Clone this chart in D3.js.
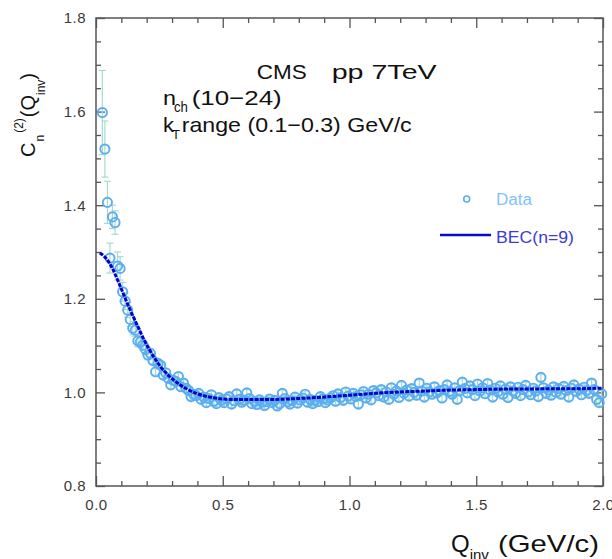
<!DOCTYPE html>
<html><head><meta charset="utf-8">
<script src="https://cdn.jsdelivr.net/npm/d3@7"></script>
<style>body{margin:0;background:#fff}svg{display:block}text{font-family:"Liberation Sans",Arial,sans-serif}</style>
</head><body><svg id="c" width="612" height="559"></svg>
<script>
// ---- data ----
const qinv = [
0.025,0.035,0.045,0.055,0.065,0.075,0.085,0.095,0.105,0.115,
0.125,0.135,0.145,0.155,0.165,0.175,0.185,0.195,0.205,0.215,
0.225,0.235,0.245,0.255,0.265,0.275,0.285,0.295,0.305,0.315,
0.325,0.335,0.345,0.355,0.365,0.375,0.385,0.395,0.405,0.415,
0.425,0.435,0.445,0.455,0.465,0.475,0.485,0.495,0.505,0.515,
0.525,0.535,0.545,0.555,0.565,0.575,0.585,0.595,0.605,0.615,
0.625,0.635,0.645,0.655,0.665,0.675,0.685,0.695,0.705,0.715,
0.725,0.735,0.745,0.755,0.765,0.775,0.785,0.795,0.805,0.815,
0.825,0.835,0.845,0.855,0.865,0.875,0.885,0.895,0.905,0.915,
0.925,0.935,0.945,0.955,0.965,0.975,0.985,0.995,1.005,1.015,
1.025,1.035,1.045,1.055,1.065,1.075,1.085,1.095,1.105,1.115,
1.125,1.135,1.145,1.155,1.165,1.175,1.185,1.195,1.205,1.215,
1.225,1.235,1.245,1.255,1.265,1.275,1.285,1.295,1.305,1.315,
1.325,1.335,1.345,1.355,1.365,1.375,1.385,1.395,1.405,1.415,
1.425,1.435,1.445,1.455,1.465,1.475,1.485,1.495,1.505,1.515,
1.525,1.535,1.545,1.555,1.565,1.575,1.585,1.595,1.605,1.615,
1.625,1.635,1.645,1.655,1.665,1.675,1.685,1.695,1.705,1.715,
1.725,1.735,1.745,1.755,1.765,1.775,1.785,1.795,1.805,1.815,
1.825,1.835,1.845,1.855,1.865,1.875,1.885,1.895,1.905,1.915,
1.925,1.935,1.945,1.955,1.965,1.975,1.985,1.995];
const c2 = [
1.598,1.520,1.406,1.287,1.375,1.363,1.270,1.265,1.215,1.195,
1.176,1.156,1.137,1.133,1.110,1.108,1.101,1.092,1.080,1.083,
1.068,1.044,1.062,1.058,1.037,1.042,1.030,1.016,1.026,1.023,
1.034,1.012,1.020,1.009,1.004,0.991,0.996,0.993,0.998,0.985,
0.990,0.978,0.987,0.995,0.981,0.976,0.989,0.983,0.978,0.986,
0.991,0.975,0.982,0.997,0.985,0.979,0.983,0.999,0.987,0.976,
0.981,0.974,0.984,0.979,0.972,0.980,0.986,0.978,0.983,0.971,
0.976,0.998,0.987,0.980,0.975,0.982,0.990,0.977,0.984,0.988,
0.996,0.979,0.985,0.976,0.983,0.980,0.991,0.986,0.978,0.984,
0.988,0.993,0.981,0.997,0.989,0.983,1.001,0.992,0.986,0.998,
0.991,0.975,0.995,1.002,0.988,0.996,0.984,1.004,0.999,0.993,
1.006,0.990,1.001,0.985,1.010,0.996,1.003,0.989,1.015,0.998,
1.005,0.992,1.008,1.000,0.994,1.020,1.003,0.990,1.009,1.001,
0.996,1.012,0.999,1.004,0.988,1.006,1.016,1.002,0.996,1.010,
0.985,1.004,1.022,1.008,0.999,1.014,1.006,0.993,1.018,1.003,
1.010,0.997,1.019,1.005,0.990,1.009,1.001,1.014,0.996,1.007,
0.989,1.012,1.003,0.998,1.011,0.993,1.006,1.015,1.001,0.995,
1.009,1.003,0.991,1.032,1.010,0.998,1.005,0.994,1.012,1.000,
1.008,0.996,1.013,1.004,0.990,1.009,1.016,1.002,1.007,0.995,
1.011,1.004,0.998,1.020,1.006,0.985,0.978,0.997];
const errEarly = [0.09,0.06,0.045,0.032,0.025,0.025,0.03,0.025,0.02,0.018,
0.016,0.015,0.014,0.013,0.012,0.012,0.011,0.011,0.010,0.010];
const errRest = 0.007;
// BEC(n=9) fit curve
const fitQ = [0.015,0.03,0.05,0.07,0.09,0.11,0.13,0.15,0.17,0.19,0.21,0.23,0.25,0.27,0.29,0.31,0.33,0.35,0.37,0.40,0.45,0.50,0.55,0.60,0.70,0.80,0.90,1.00,1.10,1.20,1.30,1.40,1.50,1.60,1.70,1.80,1.90,2.00];
const fitC = [1.298,1.292,1.279,1.259,1.234,1.208,1.182,1.158,1.135,1.112,1.092,1.074,1.058,1.045,1.034,1.025,1.017,1.010,1.004,0.997,0.990,0.986,0.985,0.985,0.985,0.987,0.990,0.994,0.998,1.001,1.003,1.005,1.006,1.007,1.007,1.008,1.008,1.009];
const xMajor = [0,0.5,1.0,1.5,2.0];
const xMinor = [0.1,0.2,0.3,0.4,0.6,0.7,0.8,0.9,1.1,1.2,1.3,1.4,1.6,1.7,1.8,1.9];
const yMajor = [0.8,1.0,1.2,1.4,1.6,1.8];
const yMinor = [0.85,0.9,0.95,1.05,1.1,1.15,1.25,1.3,1.35,1.45,1.5,1.55,1.65,1.7,1.75];

// ---- drawing ----
const svg = d3.select('#c');
const L=96,R=603,T=18,B=486;
const x = d3.scaleLinear().domain([0,2]).range([L,R]);
const y = d3.scaleLinear().domain([0.8,1.8]).range([B,T]);
const fmt = d3.format('.1f');
function styleAxis(g){
  g.select('.domain').remove();
  g.selectAll('line').attr('stroke','#555').attr('stroke-width',1.3);
  g.selectAll('text').attr('fill','#3a3a3a').attr('font-size',15).attr('letter-spacing',0.5).attr('font-family','"Liberation Sans",Arial,sans-serif');
}
svg.append('g').attr('transform',`translate(0,${B})`).call(d3.axisBottom(x).tickValues(xMajor).tickSize(-10).tickPadding(13).tickFormat(fmt)).call(styleAxis);
svg.append('g').attr('transform',`translate(0,${B})`).call(d3.axisBottom(x).tickValues(xMinor).tickSize(-5).tickFormat('')).call(styleAxis);
svg.append('g').attr('transform',`translate(0,${T})`).call(d3.axisTop(x).tickValues(xMajor).tickSize(-10).tickFormat('')).call(styleAxis);
svg.append('g').attr('transform',`translate(0,${T})`).call(d3.axisTop(x).tickValues(xMinor).tickSize(-5).tickFormat('')).call(styleAxis);
svg.append('g').attr('transform',`translate(${L},0)`).call(d3.axisLeft(y).tickValues(yMajor).tickSize(-9).tickPadding(10).tickFormat(fmt)).call(styleAxis);
svg.append('g').attr('transform',`translate(${L},0)`).call(d3.axisLeft(y).tickValues(yMinor).tickSize(-5).tickFormat('')).call(styleAxis);
svg.append('g').attr('transform',`translate(${R},0)`).call(d3.axisRight(y).tickValues(yMajor).tickSize(-9).tickFormat('')).call(styleAxis);
svg.append('g').attr('transform',`translate(${R},0)`).call(d3.axisRight(y).tickValues(yMinor).tickSize(-5).tickFormat('')).call(styleAxis);
svg.append('rect').attr('x',L).attr('y',T).attr('width',R-L).attr('height',B-T).attr('fill','none').attr('stroke','#555').attr('stroke-width',1.5);

const pts = qinv.map((q,i)=>({q, c:c2[i], e: i<errEarly.length?errEarly[i]:errRest}));
const eb = svg.append('g').attr('stroke','#a6dccf').attr('stroke-width',1.2);
pts.forEach(d=>{
  const xx=x(d.q);
  eb.append('line').attr('x1',xx).attr('x2',xx).attr('y1',y(d.c-d.e)).attr('y2',y(d.c+d.e));
  eb.append('line').attr('x1',xx-3.5).attr('x2',xx+3.5).attr('y1',y(d.c-d.e)).attr('y2',y(d.c-d.e));
  eb.append('line').attr('x1',xx-3.5).attr('x2',xx+3.5).attr('y1',y(d.c+d.e)).attr('y2',y(d.c+d.e));
});
svg.append('g').selectAll('circle').data(pts).join('circle')
  .attr('cx',d=>x(d.q)).attr('cy',d=>y(d.c)).attr('r',4.6)
  .attr('fill','none').attr('stroke','#5aaef0').attr('stroke-width',1.9);

const line = d3.line().x((d,i)=>x(fitQ[i])).y(d=>y(d)).curve(d3.curveMonotoneX);
svg.append('path').attr('d',line(fitC)).attr('fill','none').attr('stroke','#0000c8').attr('stroke-width',3).attr('stroke-dasharray','4,1.2');

// legend
svg.append('circle').attr('cx',466.7).attr('cy',199).attr('r',3).attr('fill','none').attr('stroke','#5aaef0').attr('stroke-width',1.6);
svg.append('text').attr('x',496).attr('y',204.5).attr('font-size',16).attr('fill','#80c2fa').attr('textLength',36).attr('lengthAdjust','spacingAndGlyphs').text('Data');
svg.append('line').attr('x1',440).attr('x2',491).attr('y1',235).attr('y2',235).attr('stroke','#0a0acc').attr('stroke-width',2.5);
svg.append('text').attr('x',496).attr('y',243).attr('font-size',16).attr('fill','#3c3cd2').attr('textLength',78).attr('lengthAdjust','spacingAndGlyphs').text('BEC(n=9)');

// annotations
function txt(xp,yp,size,len,s){
  const t=svg.append('text').attr('x',xp).attr('y',yp).attr('font-size',size).attr('fill','#111');
  if(len) t.attr('textLength',len).attr('lengthAdjust','spacingAndGlyphs');
  t.text(s); return t;
}
txt(256.7,78.5,21,50,'CMS');
txt(331.7,78.5,21,105,'pp 7TeV');
txt(163,105,21,13,'n');
txt(174,112,14,14,'ch');
txt(191.7,105,21,90,'(10−24)');
txt(163,132,21,11,'k');
txt(172,139,13,8,'T');
txt(181.7,132,21,230,'range (0.1−0.3) GeV/c');

// axis titles
const xt = svg.append('text').attr('x',451).attr('y',552).attr('font-size',24).attr('fill','#111');
xt.append('tspan').text('Q');
xt.append('tspan').attr('font-size',15).attr('dy',8).text('inv');
txt(498,552,24,101,'(GeV/c)');

const yl = svg.append('text').attr('transform','translate(35,157) rotate(-90)').attr('font-size',20).attr('fill','#111');
yl.append('tspan').text('C');
yl.append('tspan').attr('font-size',12).attr('dy',9).attr('dx',1).text('n');
yl.append('tspan').attr('font-size',12).attr('dy',-21).attr('dx',2).text('(2)');
yl.append('tspan').attr('dy',12).attr('dx',1).text('(Q');
yl.append('tspan').attr('font-size',12).attr('dy',10).text('inv');
yl.append('tspan').attr('dy',-10).text(')');
</script></body></html>
